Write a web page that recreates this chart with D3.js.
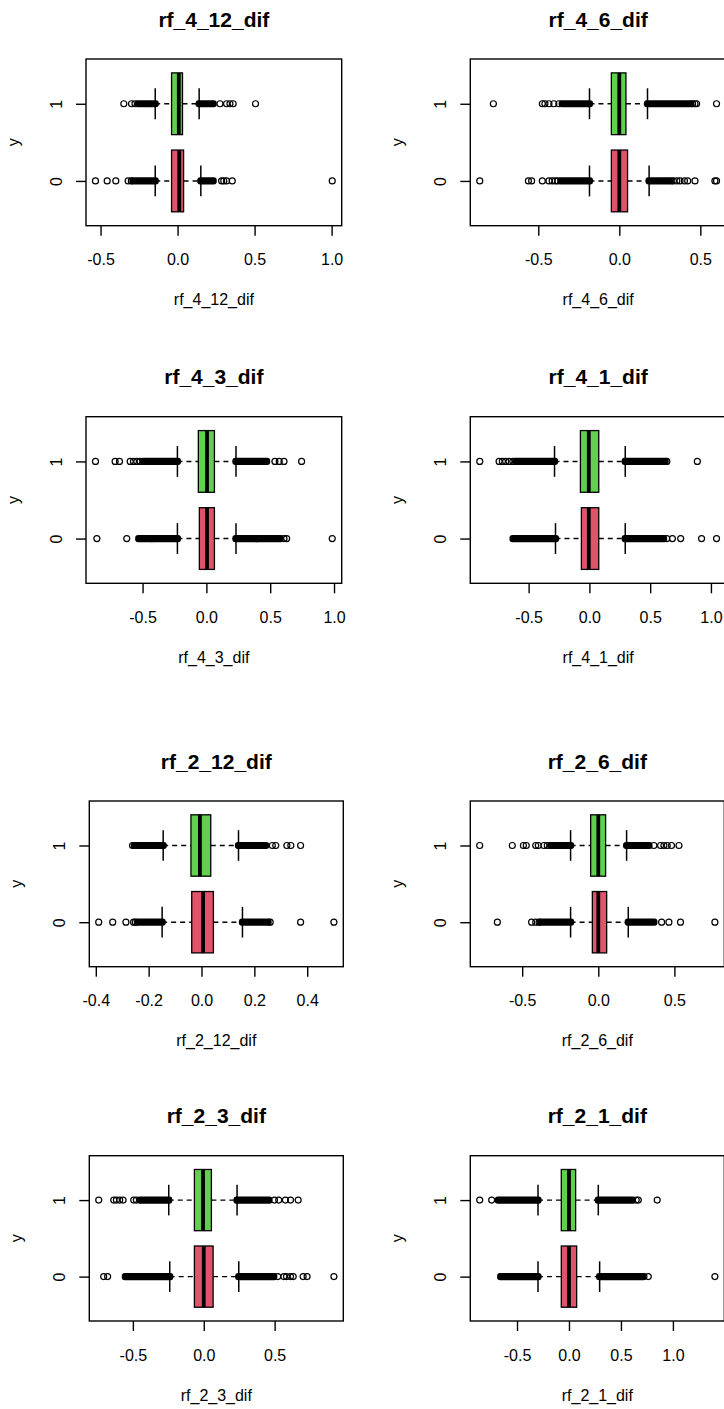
<!DOCTYPE html>
<html><head><meta charset="utf-8">
<script src="https://cdn.jsdelivr.net/npm/d3@7"></script>
<style>
body{margin:0;background:#fff}
svg{display:block}
text{font-family:"Liberation Sans", Arial, sans-serif; fill:#000}
</style>
</head><body>
<svg id="chart" width="724" height="1409"></svg>
<script>
// ---------------- data ----------------
const panelNames = ["rf_4_12_dif","rf_4_6_dif","rf_4_3_dif","rf_4_1_dif",
                    "rf_2_12_dif","rf_2_6_dif","rf_2_3_dif","rf_2_1_dif"];
const groupLabels = ["0","1"];
const yLabel = "y";

// [lower whisker, Q1, median, Q3, upper whisker]
const stats0 = [
  [-0.145,-0.039, 0.011,0.039,0.151],
  [-0.184,-0.049, 0.000,0.051,0.184],
  [-0.227,-0.055, 0.005,0.063,0.232],
  [-0.279,-0.066,-0.005,0.077,0.295],
  [-0.149,-0.037, 0.006,0.045,0.155],
  [-0.182,-0.039, 0.000,0.055,0.197],
  [-0.240,-0.066, 0.000,0.066,0.247],
  [-0.298,-0.074, 0.000,0.074,0.295]
];
const stats1 = [
  [-0.145,-0.039, 0.008,0.032,0.140],
  [-0.184,-0.049, 0.000,0.041,0.174],
  [-0.227,-0.063, 0.005,0.063,0.232],
  [-0.287,-0.074,-0.005,0.077,0.295],
  [-0.145,-0.040,-0.006,0.035,0.140],
  [-0.182,-0.050, 0.000,0.048,0.186],
  [-0.247,-0.066,-0.005,0.054,0.235],
  [-0.298,-0.074, 0.000,0.064,0.282]
];
// individually visible outliers
const outliers0 = [
  [-0.533,-0.457,-0.401,-0.321,-0.300,0.286,0.300,0.318,0.355,1.004],
  [-0.861,-0.561,-0.541,-0.475,-0.434,-0.414,-0.395,-0.380,0.334,0.355,0.375,0.402,0.422,0.467,0.590,0.600],
  [-0.858,-0.624,-0.428,0.394,0.608,0.629,0.986],
  [0.637,0.683,0.751,0.923,1.046],
  [-0.389,-0.336,-0.286,-0.257,-0.250,0.260,0.375,0.501],
  [-0.663,-0.438,-0.411,-0.389,0.416,0.464,0.540,0.766],
  [-0.706,-0.678,0.522,0.565,0.584,0.612,0.631,0.701,0.729,0.918],
  [0.721,0.763,1.404]
];
const outliers1 = [
  [-0.349,-0.299,-0.277,0.275,0.318,0.340,0.361,0.506],
  [-0.777,-0.475,-0.459,-0.434,-0.404,-0.373,0.452,0.467,0.477,0.600],
  [-0.869,-0.715,-0.681,-0.597,-0.571,-0.545,-0.519,0.537,0.571,0.608,0.746],
  [-0.902,-0.743,-0.716,-0.689,-0.661,-0.630,0.637,0.888],
  [-0.261,0.268,0.281,0.323,0.338,0.375],
  [-0.779,-0.565,-0.492,-0.473,-0.411,-0.394,-0.357,-0.335,0.365,0.409,0.431,0.453,0.481,0.530],
  [-0.741,-0.635,-0.616,-0.593,-0.569,-0.494,-0.475,0.499,0.529,0.576,0.612,0.666],
  [-0.859,-0.744,0.647,0.667,0.849]
];
// value ranges where outliers are packed so densely they form a solid band
const dense0 = [
  [[-0.290,-0.145],[0.151,0.231]],
  [[-0.360,-0.184],[0.184,0.320]],
  [[-0.530,-0.227],[0.232,0.577]],
  [[-0.628,-0.279],[0.295,0.610]],
  [[-0.242,-0.149],[0.155,0.252]],
  [[-0.379,-0.182],[0.197,0.365]],
  [[-0.553,-0.240],[0.247,0.494]],
  [[-0.657,-0.298],[0.295,0.705]]
];
const dense1 = [
  [[-0.256,-0.145],[0.140,0.231]],
  [[-0.352,-0.184],[0.174,0.440]],
  [[-0.493,-0.227],[0.232,0.472]],
  [[-0.607,-0.287],[0.295,0.623]],
  [[-0.254,-0.145],[0.140,0.243]],
  [[-0.313,-0.182],[0.186,0.333]],
  [[-0.447,-0.247],[0.235,0.459]],
  [[-0.679,-0.298],[0.282,0.609]]
];
const xTicks = [
  [-0.5,0,0.5,1.0],
  [-0.5,0,0.5],
  [-0.5,0,0.5,1.0],
  [-0.5,0,0.5,1.0],
  [-0.4,-0.2,0,0.2,0.4],
  [-0.5,0,0.5],
  [-0.5,0,0.5],
  [-0.5,0,0.5,1.0]
];
const groupColors = ["#DF536B","#61D04F"];

// ---------------- layout ----------------
const rowTop = [59, 416.7, 801, 1155.7];
const rowBottom = [225.7, 583.3, 966.7, 1321];
const colLeft = [[86,470.3],[86,470.3],[89.3,470.3],[89.3,470.3]];
const rowWidth = [255.7,255.7,254,254];
const R = 3;

const svg = d3.select("#chart");

panelNames.forEach((name, i) => {
  const row = Math.floor(i/2), col = i%2;
  const left = colLeft[row][col], width = rowWidth[row];
  const top = rowTop[row], bottom = rowBottom[row];
  const stats = [stats0[i], stats1[i]];
  const outs = [outliers0[i], outliers1[i]];
  const dens = [dense0[i], dense1[i]];

  const allVals = [].concat(stats0[i], stats1[i], outliers0[i], outliers1[i],
                            dense0[i].flat(), dense1[i].flat());
  const [mn, mx] = d3.extent(allVals);
  const pad = 0.04*(mx-mn);
  const x = d3.scaleLinear().domain([mn-pad, mx+pad]).range([left, left+width]);
  const y = d3.scaleLinear().domain([0.42, 2.58]).range([bottom, top]);

  const g = svg.append("g");

  [0,1].forEach(k => {
    const s = stats[k];
    const yc = y(k+1);
    const half = y(k+1) - y(k+1.4);
    const stapleHalf = half/2;
    // whiskers (dashed)
    g.append("line").attr("x1", x(s[0])).attr("x2", x(s[1])).attr("y1", yc).attr("y2", yc)
      .attr("stroke","#000").attr("stroke-width",1.4).attr("stroke-dasharray","5,4");
    g.append("line").attr("x1", x(s[3])).attr("x2", x(s[4])).attr("y1", yc).attr("y2", yc)
      .attr("stroke","#000").attr("stroke-width",1.4).attr("stroke-dasharray","5,4");
    // staples
    [s[0], s[4]].forEach(v => {
      g.append("line").attr("x1", x(v)).attr("x2", x(v))
        .attr("y1", yc-stapleHalf).attr("y2", yc+stapleHalf)
        .attr("stroke","#000").attr("stroke-width",1.5);
    });
    // dense outlier bands
    g.selectAll(null).data(dens[k]).enter().append("rect")
      .attr("x", d => x(d[0]) - R - 0.6)
      .attr("width", d => x(d[1]) - x(d[0]) + 2*R + 1.2)
      .attr("y", yc - R - 0.6).attr("height", 2*R + 1.2)
      .attr("rx", R).attr("fill","#000");
    // box
    g.append("rect").attr("x", x(s[1])).attr("width", x(s[3]) - x(s[1]))
      .attr("y", yc-half).attr("height", 2*half)
      .attr("fill", groupColors[k]).attr("stroke","#000").attr("stroke-width",1.3);
    // median
    g.append("line").attr("x1", x(s[2])).attr("x2", x(s[2]))
      .attr("y1", yc-half).attr("y2", yc+half)
      .attr("stroke","#000").attr("stroke-width",3.8);
    // outliers
    g.selectAll(null).data(outs[k]).enter().append("circle")
      .attr("cx", d => x(d)).attr("cy", yc).attr("r", R)
      .attr("fill","none").attr("stroke","#000").attr("stroke-width",1.2);
  });

  // frame
  g.append("rect").attr("x", left).attr("y", top).attr("width", width).attr("height", bottom-top)
    .attr("fill","none").attr("stroke","#000").attr("stroke-width",1.4);

  // x axis
  const xa = g.append("g").attr("transform", `translate(0,${bottom})`)
    .call(d3.axisBottom(x).tickValues(xTicks[i]).tickFormat(d => d.toFixed(1)).tickSize(10));
  xa.select(".domain").remove();
  xa.selectAll(".tick line").attr("stroke","#000").attr("stroke-width",1.4);
  xa.selectAll(".tick text").attr("y", 39.5).attr("dy", null)
    .style("font-size","16px").attr("fill","#000");

  // y axis
  const ya = g.append("g").attr("transform", `translate(${left},0)`)
    .call(d3.axisLeft(y).tickValues([1,2]).tickFormat(d => groupLabels[d-1]).tickSize(10));
  ya.select(".domain").remove();
  ya.selectAll(".tick line").attr("stroke","#000").attr("stroke-width",1.4);
  ya.selectAll(".tick text").attr("x", null).attr("dy", null)
    .attr("text-anchor","middle").attr("transform","translate(-24,0) rotate(-90)")
    .style("font-size","16px").attr("fill","#000");

  const cx = left + width/2;
  // title
  g.append("text").attr("x", cx).attr("y", top - 32.5).attr("text-anchor","middle")
    .style("font-size","21px").style("font-weight","bold").text(name);
  // x label
  g.append("text").attr("x", cx).attr("y", bottom + 79.5).attr("text-anchor","middle")
    .style("font-size","16px").text(name);
  // y label
  g.append("text").attr("transform", `translate(${left-67},${(top+bottom)/2}) rotate(-90)`)
    .attr("text-anchor","middle").style("font-size","16px").text(yLabel);
});
</script>
</body></html>
